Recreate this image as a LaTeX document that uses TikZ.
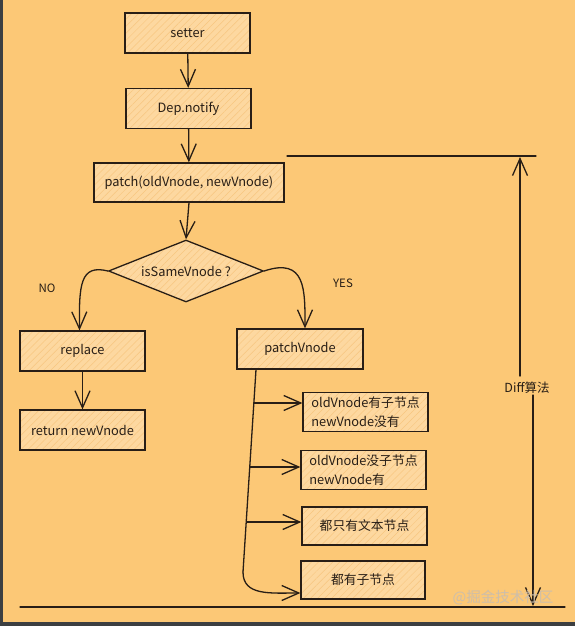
\documentclass[tikz,border=0pt]{standalone}
\usepackage{fontspec}
\setmainfont{Noto Sans CJK SC}
\usetikzlibrary{arrows.meta,shapes.geometric,patterns.meta}
\definecolor{bg}{RGB}{252,200,118}
\definecolor{boxfill}{RGB}{253,216,160}
\definecolor{hatch}{RGB}{247,198,128}
\definecolor{ink}{RGB}{40,30,22}
\definecolor{frame}{RGB}{60,63,65}
\definecolor{wmark}{RGB}{205,190,170}
\tikzset{
  stepbox/.style={draw=ink, line width=1.3pt, preaction={fill=boxfill},
    pattern={Lines[angle=45,distance=5pt,line width=0.5pt]}, pattern color=hatch,
    minimum width=125pt, minimum height=40pt, inner sep=4pt,
    font=\fontsize{12.8}{19}\selectfont, text=ink},
  decide/.style={stepbox, diamond, aspect=2.5, minimum width=155pt, minimum height=62pt, inner sep=0pt},
  link/.style={draw=ink, line width=1.3pt, line cap=round},
  arr/.style={link, -{Straight Barb[length=17pt,width=15pt,line width=1.3pt]}},
  lbl/.style={font=\fontsize{11.5}{13}\selectfont, text=ink, inner sep=1pt}
}
\begin{document}
\begin{tikzpicture}[x=1pt,y=-1pt]
\useasboundingbox (0,0) rectangle (575,626);
\fill[bg] (0,0) rectangle (575,626);
\fill[frame] (0,0) rectangle (3,626);
\fill[frame] (0,622) rectangle (575,626);

% main column
\node[stepbox] (setter) at (187.5,33) {setter};
\node[stepbox] (dep) at (188.5,108.5) {Dep.notify};
\node[stepbox, minimum width=190pt, minimum height=39pt] (patch) at (189,182.5) {patch(oldVnode, newVnode)};
\node[decide] (same) at (186,271) {isSameVnode ?};

\node[stepbox] (rep) at (82.5,351) {replace};
\node[stepbox] (ret) at (82.5,430) {return newVnode};
\node[stepbox, minimum width=126pt] (pv) at (300,349) {patchVnode};

\node[stepbox, minimum height=39pt, align=left] (c1) at (365.5,412) {oldVnode有子节点\\newVnode没有};
\node[stepbox, minimum height=38pt, align=left] (c2) at (363.5,470) {oldVnode没子节点\\newVnode有};
\node[stepbox, minimum height=38pt] (c3) at (364.5,526) {都只有文本节点};
\node[stepbox, minimum width=124pt, minimum height=38pt] (c4) at (363,580) {都有子节点};

\node[lbl] (no) at (47,288) {NO};
\node[lbl] (yes) at (343,283) {YES};

\draw[arr] (setter) -- (dep);
\draw[arr] (dep) -- (patch);
\draw[arr] (patch.south) -- (same.north);
\draw[arr] (rep) -- (ret);
\draw[arr] (same.west) .. controls (80,264) and (79,285) .. ([xshift=-3pt]rep.north);
\draw[arr] (same.east) .. controls (306,257) and (305,290) .. ([xshift=5pt]pv.north);

% trunk from patchVnode
\coordinate (t0) at ([xshift=-44pt]pv.south);
\coordinate (t1) at (243,572);
\coordinate (b1) at (254,403);
\coordinate (b2) at (250,467);
\coordinate (b3) at (247,522);
\draw[link] (t0) -- (t1);
\draw[arr] (t1) .. controls (243,596) and (270,593) .. ([yshift=-13pt]c4.west);
\draw[arr] (b1) -- (c1.west |- b1);
\draw[arr] (b2) -- (c2.west |- b2);
\draw[arr] (b3) -- (c3.west |- b3);

% Diff range
\coordinate (tl) at (287,156);
\coordinate (tr) at (536,156);
\coordinate (bl) at (20,607);
\coordinate (br) at (565,607);
\draw[link] (tl) -- (tr);
\draw[link] (bl) -- (br);
\node[lbl, font=\fontsize{12.5}{14}\selectfont] (diff) at (527,388) {Diff算法};
\coordinate (up) at (520,157);
\coordinate (dn) at (533,606);
\draw[arr] ([xshift=-7pt,yshift=5pt]diff.north) -- (up);
\draw[arr] ([xshift=6pt]diff.south) -- (dn);

\node[text=wmark, font=\fontsize{14.5}{16}\selectfont, inner sep=0pt] (wm) at (503,598) {@掘金技术社区};
\end{tikzpicture}
\end{document}
